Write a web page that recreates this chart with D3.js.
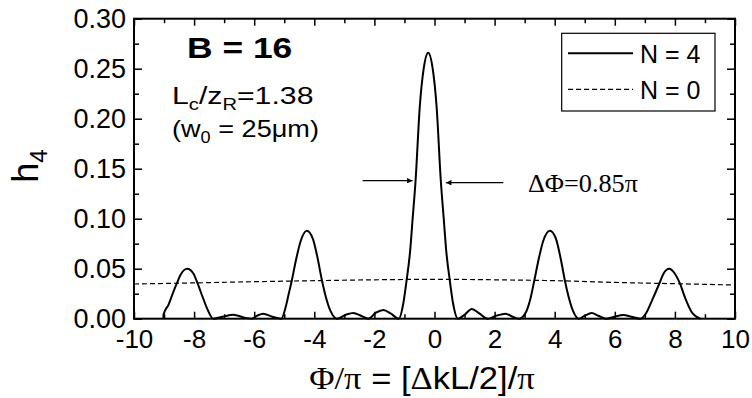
<!DOCTYPE html>
<html>
<head>
<meta charset="utf-8">
<script src="https://cdn.jsdelivr.net/npm/d3@7"></script>
<style>
  body { margin: 0; background: #fff; }
  svg text { font-family: "Liberation Sans", Arial, sans-serif; fill: #000; }
  .serif { font-family: "Liberation Serif", "Times New Roman", serif; }
</style>
</head>
<body>
<svg id="chart" width="752" height="398"></svg>
<script>
// N = 4 curve [phi/pi, h4]
const n4 = [
  [-9.02, 0.000], [-9.02, 0.004], [-8.85, 0.014], [-8.70, 0.026], [-8.58, 0.035], [-8.45, 0.044],
  [-8.23, 0.050], [-8.02, 0.045], [-7.88, 0.035], [-7.72, 0.022], [-7.55, 0.009],
  [-7.36, 0.000], [-7.05, 0.002], [-6.69, 0.004], [-6.32, 0.001], [-6.08, 0.000],
  [-5.90, 0.003], [-5.70, 0.005], [-5.40, 0.002], [-5.10, 0.000],
  [-4.95, 0.012], [-4.85, 0.025], [-4.75, 0.038], [-4.60, 0.060], [-4.45, 0.078],
  [-4.25, 0.088], [-4.05, 0.080], [-3.90, 0.062], [-3.75, 0.039], [-3.60, 0.020],
  [-3.45, 0.007], [-3.25, 0.000], [-2.95, 0.004], [-2.70, 0.0057], [-2.45, 0.003],
  [-2.20, 0.000], [-1.95, 0.006], [-1.70, 0.0087], [-1.45, 0.005], [-1.19, 0.000],
  [-1.04, 0.015], [-0.93, 0.038], [-0.81, 0.068], [-0.73, 0.099], [-0.63, 0.138],
  [-0.49, 0.212], [-0.36, 0.250], [-0.21, 0.266], [-0.06, 0.250], [0.07, 0.212],
  [0.21, 0.138], [0.31, 0.099], [0.39, 0.068], [0.51, 0.038], [0.62, 0.015],
  [0.78, 0.000], [1.00, 0.004], [1.24, 0.0097], [1.50, 0.005], [1.77, 0.000],
  [2.05, 0.003], [2.37, 0.005], [2.60, 0.002], [2.82, 0.000],
  [3.05, 0.007], [3.20, 0.021], [3.32, 0.038], [3.47, 0.060], [3.62, 0.078],
  [3.84, 0.088], [4.04, 0.080], [4.20, 0.060], [4.34, 0.038], [4.48, 0.020],
  [4.62, 0.007], [4.80, 0.000], [5.00, 0.003], [5.23, 0.0056], [5.45, 0.003],
  [5.72, 0.000], [6.00, 0.002], [6.28, 0.0037], [6.55, 0.002], [6.84, 0.000],
  [7.05, 0.006], [7.25, 0.019], [7.48, 0.035], [7.62, 0.045], [7.81, 0.050],
  [8.00, 0.045], [8.17, 0.035], [8.35, 0.020], [8.55, 0.007], [8.85, 0.000]
];

// N = 0 curve
const n0 = [
  [-10, 0.0347], [-8, 0.0358], [-6, 0.0370], [-4, 0.0380], [-2, 0.0389], [0, 0.0394],
  [2, 0.0389], [4, 0.0380], [6, 0.0363], [8, 0.0350], [10, 0.0337]
];

const xMajor = [-10, -8, -6, -4, -2, 0, 2, 4, 6, 8, 10];
const xMinor = [-9, -7, -5, -3, -1, 1, 3, 5, 7, 9];
const yMajor = [0, 0.05, 0.10, 0.15, 0.20, 0.25, 0.30];
const yMinor = [0.025, 0.075, 0.125, 0.175, 0.225, 0.275];

const svg = d3.select("#chart");
const margin = { left: 134, right: 17, top: 18.7, bottom: 79.3 };
const width = 752, height = 398;

const x = d3.scaleLinear().domain([-10, 10]).range([margin.left, width - margin.right]);
const y = d3.scaleLinear().domain([0, 0.30]).range([height - margin.bottom, margin.top]);

// Axes (ticks pointing inward)
function axisGroup(axis, tx, ty) {
  const g = svg.append("g").attr("transform", `translate(${tx},${ty})`).call(axis);
  g.select(".domain").remove();
  g.selectAll(".tick line").attr("stroke", "#000").attr("stroke-width", 1.5);
  g.selectAll(".tick text").attr("fill", "#000");
  return g;
}
const yb = y(0), yt = y(0.30), xl = x(-10), xr = x(10);

const bx = axisGroup(d3.axisBottom(x).tickValues(xMajor).tickSize(-7).tickPadding(11).tickFormat(d => String(d)), 0, yb);
bx.selectAll("text").style("font-size", "26px");
axisGroup(d3.axisBottom(x).tickValues(xMinor).tickSize(-4.5).tickFormat(""), 0, yb);
axisGroup(d3.axisTop(x).tickValues(xMajor).tickSize(-7).tickFormat(""), 0, yt);
axisGroup(d3.axisTop(x).tickValues(xMinor).tickSize(-4.5).tickFormat(""), 0, yt);

const ly = axisGroup(d3.axisLeft(y).tickValues(yMajor).tickSize(-8).tickPadding(8).tickFormat(d3.format(".2f")), xl, 0);
ly.selectAll("text").style("font-size", "27px");
axisGroup(d3.axisLeft(y).tickValues(yMinor).tickSize(-5).tickFormat(""), xl, 0);
axisGroup(d3.axisRight(y).tickValues(yMajor).tickSize(-8).tickFormat(""), xr, 0);
axisGroup(d3.axisRight(y).tickValues(yMinor).tickSize(-5).tickFormat(""), xr, 0);

svg.append("rect")
  .attr("x", xl).attr("y", yt).attr("width", xr - xl).attr("height", yb - yt)
  .attr("fill", "none").attr("stroke", "#000").attr("stroke-width", 2);

// Curves
const line = d3.line().x(d => x(d[0])).y(d => y(d[1])).curve(d3.curveMonotoneX);

svg.append("path")
  .datum(n0)
  .attr("d", line)
  .attr("fill", "none").attr("stroke", "#000").attr("stroke-width", 1.2)
  .attr("stroke-dasharray", "5,3");

svg.append("path")
  .datum(n4)
  .attr("d", line)
  .attr("fill", "none").attr("stroke", "#000").attr("stroke-width", 2)
  .attr("stroke-linejoin", "round");

// text helper with a little horizontal stretch, like the original figure
function label(tx, ty, sx, size, html, cls) {
  const t = svg.append("g")
    .attr("transform", `translate(${tx},${ty}) scale(${sx},1)`)
    .append("text")
    .style("font-size", size + "px")
    .html(html);
  if (cls) t.attr("class", cls);
  return t;
}

// Axis titles
label(422, 389, 1.08, 32,
  '<tspan class="serif">Φ/π</tspan> = [<tspan class="serif">Δ</tspan>kL/2]/<tspan class="serif">π</tspan>')
  .attr("text-anchor", "middle");

svg.append("text")
  .attr("transform", "translate(38,166) rotate(-90)")
  .attr("text-anchor", "middle")
  .style("font-size", "36px")
  .html('h<tspan dy="9" style="font-size:24px">4</tspan>');

// Annotations
label(187, 58, 1.18, 30, "B = 16").style("font-weight", "bold");

label(172, 104, 1.26, 24,
  'L<tspan dy="6" style="font-size:16px">c</tspan><tspan dy="-6">/z</tspan><tspan dy="6" style="font-size:16px">R</tspan><tspan dy="-6">=1.38</tspan>');

label(172, 137, 1.13, 24,
  '(w<tspan dy="6" style="font-size:16px">0</tspan><tspan dy="-6"> = 25μm)</tspan>');

// FWHM arrows
svg.append("defs").append("marker")
  .attr("id", "arrow").attr("viewBox", "0 0 10 10")
  .attr("refX", 10).attr("refY", 5)
  .attr("markerWidth", 11).attr("markerHeight", 5.5)
  .attr("markerUnits", "userSpaceOnUse")
  .attr("orient", "auto")
  .append("path").attr("d", "M0,0L10,5L0,10Z").attr("fill", "#000");

svg.append("line")
  .attr("x1", x(-2.39)).attr("x2", x(-0.73)).attr("y1", y(0.138)).attr("y2", y(0.138))
  .attr("stroke", "#000").attr("stroke-width", 1.2).attr("marker-end", "url(#arrow)");
svg.append("line")
  .attr("x1", x(2.29)).attr("x2", x(0.38)).attr("y1", y(0.136)).attr("y2", y(0.136))
  .attr("stroke", "#000").attr("stroke-width", 1.2).attr("marker-end", "url(#arrow)");

label(x(3.11), 192, 1.05, 25, "ΔΦ=0.85π", "serif");

// Legend
const lg = svg.append("g");
lg.append("rect")
  .attr("x", 561.7).attr("y", 33.3).attr("width", 153.3).attr("height", 77.7)
  .attr("fill", "#fff").attr("stroke", "#000").attr("stroke-width", 1.2);
const legendItems = [
  { label: "N = 4", dash: null, w: 2, yy: 53.3 },
  { label: "N = 0", dash: "5,3", w: 1.2, yy: 89.3 }
];
legendItems.forEach(d => {
  lg.append("line")
    .attr("x1", 568).attr("x2", 633).attr("y1", d.yy).attr("y2", d.yy)
    .attr("stroke", "#000").attr("stroke-width", d.w)
    .attr("stroke-dasharray", d.dash);
  lg.append("text")
    .attr("x", 640).attr("y", d.yy + 9.5)
    .style("font-size", "25px")
    .text(d.label);
});
</script>
</body>
</html>
